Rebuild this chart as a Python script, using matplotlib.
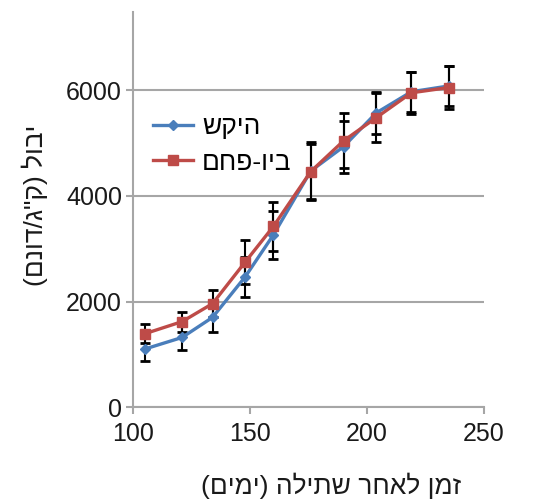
import matplotlib.pyplot as plt

plt.rcParams['font.family'] = ['Liberation Sans', 'DejaVu Sans']


def rtl(s):
    # matplotlib has no bidi: reverse the string and mirror the brackets
    swap = {'(': ')', ')': '('}
    return ''.join(swap.get(c, c) for c in reversed(s))


# Data
days = [105, 121, 134, 148, 160, 176, 190, 204, 219, 235]
control = [1100, 1320, 1700, 2470, 3260, 4470, 4930, 5570, 5970, 6080]
control_err = [220, 230, 280, 380, 460, 540, 490, 400, 380, 380]
biochar = [1390, 1620, 1960, 2750, 3420, 4460, 5040, 5480, 5950, 6050]
biochar_err = [180, 190, 260, 420, 460, 520, 520, 460, 400, 410]

label_control = 'היקש'
label_biochar = 'ביו-פחם'
xlabel = 'זמן לאחר שתילה (ימים)'
ylabel = 'יבול (ק"ג/דונם)'

blue = '#4a7ebb'
red = '#be4b48'
grey = '#a6a6a6'
text_c = '#1a1a1a'

fig = plt.figure(figsize=(5.43, 4.99), dpi=100)
ax = fig.add_axes([0.245, 0.184, 0.646, 0.792])

ax.errorbar(days, control, yerr=control_err, fmt='none', ecolor='black',
            elinewidth=1.5, capsize=3.5, capthick=2, zorder=2)
ax.errorbar(days, biochar, yerr=biochar_err, fmt='none', ecolor='black',
            elinewidth=1.5, capsize=3.5, capthick=2, zorder=2)
ax.plot(days, control, color=blue, lw=2.4, marker='D', ms=5,
        label=rtl(label_control), zorder=3)
ax.plot(days, biochar, color=red, lw=2.4, marker='s', ms=7.5,
        label=rtl(label_biochar), zorder=4)

ax.set_xlim(100, 250)
ax.set_ylim(0, 7480)
ax.set_xticks([100, 150, 200, 250])
ax.set_yticks([0, 2000, 4000, 6000])
ax.grid(axis='y', color=grey, lw=1.5)
ax.set_axisbelow(True)

for s in ['top', 'right']:
    ax.spines[s].set_visible(False)
for s in ['left', 'bottom']:
    ax.spines[s].set_color(grey)
    ax.spines[s].set_linewidth(1.5)
ax.tick_params(colors=grey, labelcolor=text_c, labelsize=18, width=1.5, length=5)
ax.tick_params(axis='x', pad=6)
ax.tick_params(axis='y', pad=3)

ax.set_xlabel(rtl(xlabel), fontsize=19, color=text_c, va='center')
ax.set_ylabel(rtl(ylabel), fontsize=19, color=text_c, va='center')
ax.xaxis.set_label_coords(0.565, -0.2)
ax.yaxis.set_label_coords(-0.28, 0.51)

ax.legend(loc='upper left', bbox_to_anchor=(-0.01, 0.8), frameon=False,
          fontsize=19, handlelength=1.5, handletextpad=0.35, labelspacing=0.45)

fig.savefig('out.png', dpi=100)
